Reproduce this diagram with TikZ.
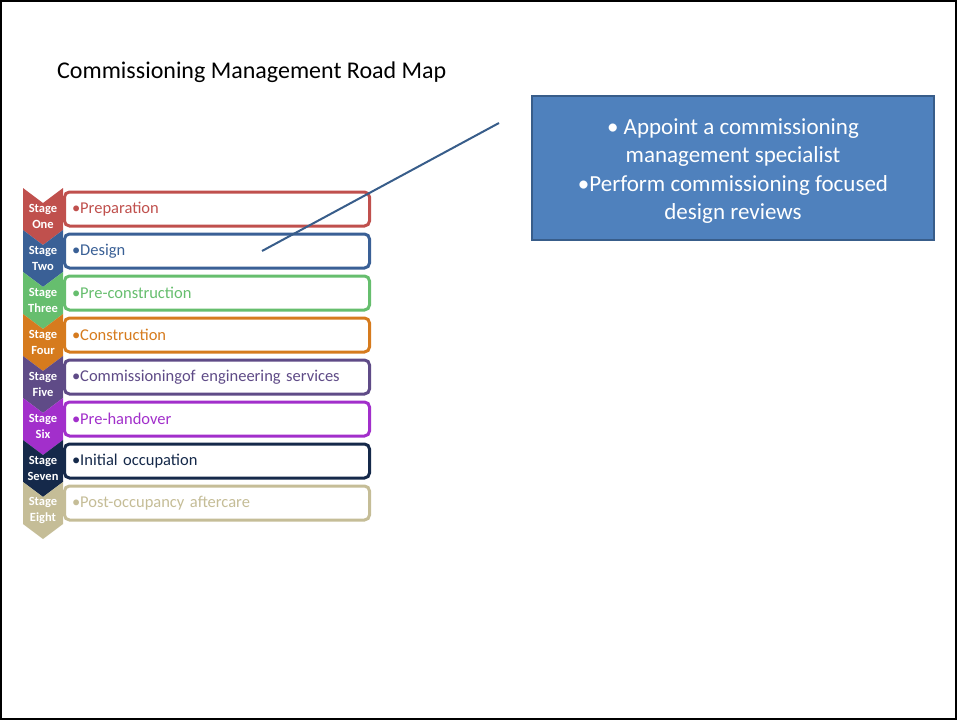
\documentclass[tikz,border=0pt]{standalone}
\usepackage{fontspec}
\setmainfont{Carlito}
\usepackage{xcolor}

\definecolor{stOne}{HTML}{C0504D}
\definecolor{stTwo}{HTML}{3A6096}
\definecolor{stThree}{HTML}{66BE6E}
\definecolor{stFour}{HTML}{D67B1E}
\definecolor{stFive}{HTML}{5F4B87}
\definecolor{stSix}{HTML}{A22FCB}
\definecolor{stSeven}{HTML}{15294A}
\definecolor{stEight}{HTML}{C5BD97}
\definecolor{noteFill}{HTML}{4F81BD}
\definecolor{noteLine}{HTML}{385D8A}

\begin{document}
\begin{tikzpicture}[x=1pt,y=-1pt,
  stagelbl/.style={text=white,font=\fontsize{12.5}{16}\selectfont\bfseries,align=center,inner sep=0pt},
  stagebox/.style={draw=#1,text=#1,line width=3pt,rounded corners=5pt,fill=white,
    minimum width=305pt,minimum height=34pt,anchor=west,text width=290pt,align=left,
    inner xsep=7pt,font=\fontsize{16.5}{19}\selectfont}]
\useasboundingbox (0,0) rectangle (957,720);
\draw[line width=2pt] (1,1) rectangle (956,719);

\node[anchor=west,inner sep=0pt,font=\fontsize{24}{28}\selectfont] (title) at (57,72) {Commissioning Management Road Map};

% chevrons
\fill[stOne] (23,188) -- (43,203) -- (63,188) -- (63,230) -- (43,245) -- (23,230) -- cycle;
\fill[stTwo] (23,230) -- (43,245) -- (63,230) -- (63,272) -- (43,287) -- (23,272) -- cycle;
\fill[stThree] (23,272) -- (43,287) -- (63,272) -- (63,314) -- (43,329) -- (23,314) -- cycle;
\fill[stFour] (23,314) -- (43,329) -- (63,314) -- (63,356) -- (43,371) -- (23,356) -- cycle;
\fill[stFive] (23,356) -- (43,371) -- (63,356) -- (63,398) -- (43,413) -- (23,398) -- cycle;
\fill[stSix] (23,398) -- (43,413) -- (63,398) -- (63,440) -- (43,455) -- (23,440) -- cycle;
\fill[stSeven] (23,440) -- (43,455) -- (63,440) -- (63,482) -- (43,497) -- (23,482) -- cycle;
\fill[stEight] (23,482) -- (43,497) -- (63,482) -- (63,524) -- (43,539) -- (23,524) -- cycle;

\node[stagelbl] (one) at (43,216) {Stage\\One};
\node[stagelbl] (two) at (43,258) {Stage\\Two};
\node[stagelbl] (three) at (43,300) {Stage\\Three};
\node[stagelbl] (four) at (43,342) {Stage\\Four};
\node[stagelbl] (five) at (43,384) {Stage\\Five};
\node[stagelbl] (six) at (43,426) {Stage\\Six};
\node[stagelbl] (seven) at (43,468) {Stage\\Seven};
\node[stagelbl] (eight) at (43,510) {Stage\\Eight};

\node[stagebox=stOne] (prep) at (63,209) {•Preparation};
\node[stagebox=stTwo] (design) at (63,251) {•Design};
\node[stagebox=stThree] (precon) at (63,293) {•Pre-construction};
\node[stagebox=stFour] (constr) at (63,335) {•Construction};
\node[stagebox=stFive] (commis) at (63,377) {•Commissioningof engineering services};
\node[stagebox=stSix] (prehand) at (63,419) {•Pre-handover};
\node[stagebox=stSeven] (occup) at (63,461) {•Initial occupation};
\node[stagebox=stEight] (after) at (63,503) {•Post-occupancy aftercare};

% callout
\node[draw=noteLine,fill=noteFill,line width=2pt,minimum width=402pt,minimum height=144pt] (note) at (733,168) {};
\node[text=white,align=center,font=\fontsize{23}{28.5}\selectfont,yshift=-3pt] (notetext) at (note.center)
  {• Appoint a commissioning\\management specialist\\•Perform commissioning focused\\design reviews};

\coordinate (tail) at (499,123);
\coordinate (point) at (262,251);
\draw[noteLine,line width=2pt] (tail) -- (point);
\end{tikzpicture}
\end{document}
